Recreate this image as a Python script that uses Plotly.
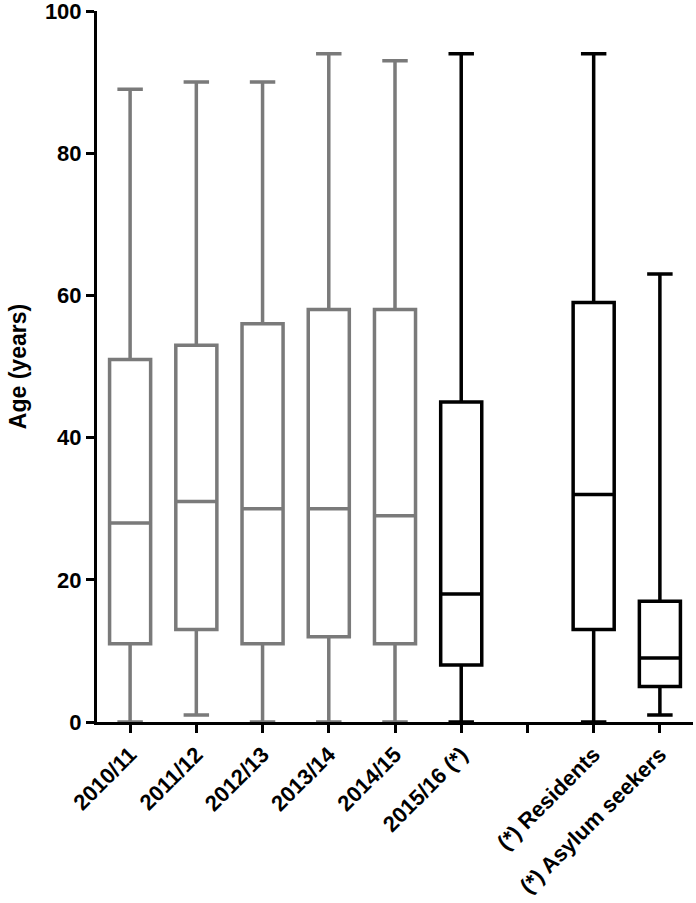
import plotly.graph_objects as go

# summary stats (min / Q1 / median / Q3 / max)
seasons = ['2010/11', '2011/12', '2012/13', '2013/14', '2014/15']
season_min = [0, 1, 0, 0, 0]
season_q1 = [11, 13, 11, 12, 11]
season_med = [28, 31, 30, 30, 29]
season_q3 = [51, 53, 56, 58, 58]
season_max = [89, 90, 90, 94, 93]

recent = ['2015/16 (*)', '(*) Residents', '(*) Asylum seekers']
recent_min = [0, 0, 1]
recent_q1 = [8, 13, 5]
recent_med = [18, 32, 9]
recent_q3 = [45, 59, 17]
recent_max = [94, 94, 63]

gap = ' '
categories = seasons + [recent[0], gap] + recent[1:]

FONT = 'Liberation Sans'

fig = go.Figure()

fig.add_trace(go.Box(x=seasons, q1=season_q1, median=season_med, q3=season_q3,
                     lowerfence=season_min, upperfence=season_max,
                     line=dict(color='#7a7a7a', width=3.5),
                     fillcolor='white', width=0.62, whiskerwidth=0.62,
                     boxpoints=False, hoverinfo='skip', showlegend=False))

fig.add_trace(go.Box(x=recent, q1=recent_q1, median=recent_med, q3=recent_q3,
                     lowerfence=recent_min, upperfence=recent_max,
                     line=dict(color='black', width=3.5),
                     fillcolor='white', width=0.62, whiskerwidth=0.62,
                     boxpoints=False, hoverinfo='skip', showlegend=False))

fig.update_layout(width=696, height=903,
                  margin=dict(l=97, r=3, t=11, b=181),
                  plot_bgcolor='white', paper_bgcolor='white',
                  boxmode='overlay',
                  font=dict(family=FONT, size=22, color='black'))

fig.update_xaxes(type='category', categoryorder='array', categoryarray=categories,
                 range=[-0.5, len(categories) - 0.5], automargin=False,
                 showline=True, linecolor='black', linewidth=3,
                 ticks='outside', ticklen=8, tickwidth=3, tickcolor='black',
                 tickangle=-45, showgrid=False, zeroline=False,
                 tickfont=dict(family=FONT, size=22, weight='bold'))

fig.update_yaxes(range=[0, 100], tickvals=[0, 20, 40, 60, 80, 100],
                 automargin=False, ticklabeloverflow='allow',
                 showline=True, linecolor='black', linewidth=3,
                 ticks='outside', ticklen=8, tickwidth=3, tickcolor='black',
                 showgrid=False, zeroline=False,
                 tickfont=dict(family=FONT, size=22, weight='bold'),
                 title=dict(text='Age (years)', standoff=12,
                            font=dict(family=FONT, size=23, weight='bold')))

# drop the browser's default 8px body margin so the figure sits at the page corner
fig.write_html("out.html", config={'displayModeBar': False},
               post_script="document.body.style.margin='0px';")
